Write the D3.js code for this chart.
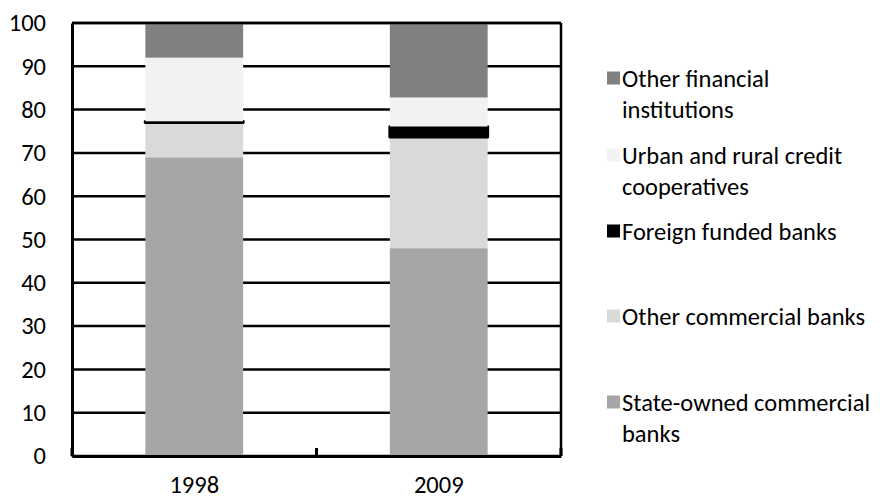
<!DOCTYPE html>
<html>
<head>
<meta charset="utf-8">
<script src="https://cdn.jsdelivr.net/npm/d3@7"></script>
<style>
  html, body { margin: 0; padding: 0; background: #fff; }
  svg { display: block; }
  text { font-family: Carlito, Lato, "Open Sans", sans-serif; fill: #000; }
</style>
</head>
<body>
<svg id="chart" width="880" height="498"></svg>
<script>
// ---- data ----
const categories = ["1998", "2009"];
const seriesKeys = ["state", "otherCommercial", "foreign", "urbanRural", "otherFinancial"];
const stateOwned      = [69.0, 48.0];
const otherCommercial = [8.0, 25.7];
const foreignFunded   = [0.3, 2.4];
const urbanRural      = [14.7, 6.7];
const otherFinancial  = [8.0, 17.2];
const yTicks = [0, 10, 20, 30, 40, 50, 60, 70, 80, 90, 100];
const legendLabels = [
  ["Other financial", "institutions"],
  ["Urban and rural credit", "cooperatives"],
  ["Foreign funded banks"],
  ["Other commercial banks"],
  ["State-owned commercial", "banks"]
];
const legendKeys = ["otherFinancial", "urbanRural", "foreign", "otherCommercial", "state"];
const colors = {
  state: "#a6a6a6",
  otherCommercial: "#d9d9d9",
  foreign: "#000000",
  urbanRural: "#f2f2f2",
  otherFinancial: "#808080"
};

// ---- build table ----
const table = categories.map((c, i) => ({
  cat: c,
  state: stateOwned[i],
  otherCommercial: otherCommercial[i],
  foreign: foreignFunded[i],
  urbanRural: urbanRural[i],
  otherFinancial: otherFinancial[i]
}));

const svg = d3.select("#chart");
const pLeft = 72, pRight = 561, pTop = 23, pBottom = 456;
const fontSize = 24.5;
const ff = "Carlito, Lato, 'Open Sans', sans-serif";

const x = d3.scaleBand().domain(categories).range([pLeft, pRight])
  .paddingInner(0.6).paddingOuter(0.3);
const y = d3.scaleLinear().domain([0, 100]).range([pBottom, pTop]);

// gridlines
svg.append("g").selectAll("line").data(yTicks).join("line")
  .attr("x1", pLeft).attr("x2", pRight)
  .attr("y1", d => y(d)).attr("y2", d => y(d))
  .attr("stroke", "#000").attr("stroke-width", 2.5);

// stacked bars
const stack = d3.stack().keys(seriesKeys)(table);
const gBars = svg.append("g");
stack.forEach(layer => {
  const key = layer.key;
  gBars.append("g").selectAll("rect").data(layer).join("rect")
    .attr("x", d => x(d.data.cat))
    .attr("width", x.bandwidth())
    .attr("y", d => y(d[1]))
    .attr("height", d => y(d[0]) - y(d[1]))
    .attr("fill", colors[key])
    .attr("stroke", key === "foreign" ? "#000" : "none")
    .attr("stroke-width", key === "foreign" ? 3 : 0)
    .attr("stroke-linejoin", "round");
});

// y axis
const yAxis = d3.axisLeft(y).tickValues(yTicks).tickSize(0).tickPadding(26);
const gy = svg.append("g").attr("transform", `translate(${pLeft},0)`).call(yAxis);
gy.select(".domain").attr("stroke", "#000").attr("stroke-width", 3);
gy.selectAll("text").attr("font-size", fontSize).attr("fill", "#000").style("font-family", ff);

// x axis
const xAxis = d3.axisBottom(x).tickSize(0).tickPadding(0);
const gx = svg.append("g").attr("transform", `translate(0,${pBottom})`).call(xAxis);
gx.select(".domain").attr("stroke", "#000").attr("stroke-width", 3);
gx.selectAll("text").attr("font-size", fontSize).attr("fill", "#000")
  .attr("y", 36.5).attr("dy", 0).style("font-family", ff);

// category boundary tick marks (inside)
const boundaries = [pLeft, (x(categories[0]) + x.bandwidth() + x(categories[1])) / 2, pRight];
svg.append("g").selectAll("line").data(boundaries).join("line")
  .attr("x1", d => d).attr("x2", d => d)
  .attr("y1", pBottom - 8).attr("y2", pBottom)
  .attr("stroke", "#000").attr("stroke-width", 3);

// right and top border
svg.append("line").attr("x1", pRight).attr("x2", pRight).attr("y1", pTop).attr("y2", pBottom)
  .attr("stroke", "#000").attr("stroke-width", 2.5);
svg.append("line").attr("x1", pLeft).attr("x2", pRight).attr("y1", pTop).attr("y2", pTop)
  .attr("stroke", "#000").attr("stroke-width", 2.5);

// legend
const legX = 607, textX = 622, lineH = 31, sq = 13;
const legBaselines = [87, 164, 240, 325, 411];
const leg = svg.append("g");
legendKeys.forEach((k, i) => {
  const by = legBaselines[i];
  leg.append("rect").attr("x", legX).attr("y", by - 15.5).attr("width", sq).attr("height", sq)
    .attr("fill", colors[k]);
  const t = leg.append("text").attr("x", textX).attr("y", by).attr("font-size", fontSize);
  legendLabels[i].forEach((line, j) => {
    t.append("tspan").attr("x", textX).attr("y", by + j * lineH).text(line);
  });
});
</script>
</body>
</html>
